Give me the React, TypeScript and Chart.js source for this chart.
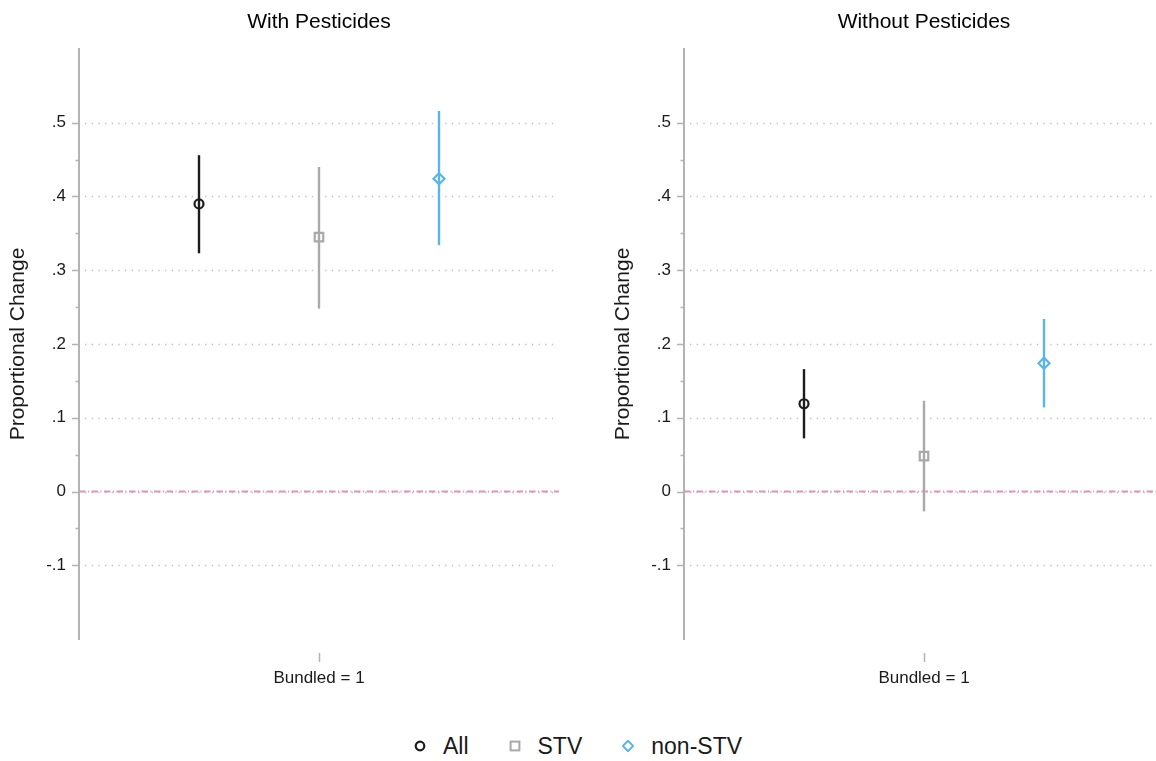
import React, { useEffect, useRef } from 'react';
import { Chart, registerables } from 'chart.js';

Chart.register(...registerables);

const FONT = "'Liberation Sans', Arial, Helvetica, sans-serif";

const categories = ['All', 'STV', 'non-STV'];
const panelTitles = ['With Pesticides', 'Without Pesticides'];
const xTickLabels = ['Bundled = 1'];
const yAxisTitle = 'Proportional Change';
const yMajorTicks = [-0.1, 0, 0.1, 0.2, 0.3, 0.4, 0.5];
const yMinorTicks = [-0.05, 0.05, 0.15, 0.25, 0.35, 0.45];

const withEstimate = [0.39, 0.345, 0.424];
const withLower = [0.323, 0.248, 0.334];
const withUpper = [0.456, 0.44, 0.516];

const withoutEstimate = [0.119, 0.048, 0.174];
const withoutLower = [0.072, -0.027, 0.114];
const withoutUpper = [0.166, 0.123, 0.234];

const seriesColors = ['#1c1c1c', '#a9a9a9', '#5bb5e8'];
const pointStyles = ['circle', 'rect', 'rectRot'];
const pointRadii = [4.5, 6, 5.5];

const AXIS_GRAY = '#b3b3b3';
const TEXT = '#1a1a1a';

function fmtTick(v: number): string {
  const r = Math.round(v * 10) / 10;
  if (r === 0) return '0';
  const s = Math.abs(r).toFixed(1).replace(/^0/, '');
  return (r < 0 ? '-' : '') + s;
}

const stataPlugin = {
  id: 'stataAxis',
  beforeDatasetsDraw(chart: any) {
    const { ctx, chartArea } = chart;
    const y = chart.scales.y;
    ctx.save();
    ctx.strokeStyle = '#bdbdbd';
    ctx.lineWidth = 1.3;
    ctx.setLineDash([1.3, 5.37]);
    yMajorTicks.forEach((v) => {
      const py = Math.round(y.getPixelForValue(v)) + 0.5;
      ctx.beginPath();
      ctx.moveTo(chartArea.left + 6, py);
      ctx.lineTo(chartArea.right - 6, py);
      ctx.stroke();
    });
    ctx.restore();
  },
  afterDraw(chart: any) {
    const { ctx, chartArea } = chart;
    const y = chart.scales.y;
    const x = chart.scales.x;
    ctx.save();
    ctx.strokeStyle = AXIS_GRAY;
    ctx.lineWidth = 1.5;
    ctx.setLineDash([]);
    yMajorTicks.forEach((v) => {
      const py = Math.round(y.getPixelForValue(v)) + 0.5;
      ctx.beginPath();
      ctx.moveTo(chartArea.left - 7, py);
      ctx.lineTo(chartArea.left, py);
      ctx.stroke();
    });
    yMinorTicks.forEach((v) => {
      const py = Math.round(y.getPixelForValue(v)) + 0.5;
      ctx.beginPath();
      ctx.moveTo(chartArea.left - 3.5, py);
      ctx.lineTo(chartArea.left, py);
      ctx.stroke();
    });
    x.ticks.forEach((t: any) => {
      const px = Math.round(x.getPixelForValue(t.value)) + 0.5;
      ctx.beginPath();
      ctx.moveTo(px, chartArea.bottom + 14);
      ctx.lineTo(px, chartArea.bottom + 23);
      ctx.stroke();
    });
    ctx.restore();
  },
};

function buildConfig(title: string, est: number[], lo: number[], hi: number[]): any {
  const datasets: any[] = [];
  datasets.push({
    label: 'zero',
    data: [
      { x: 0, y: 0 },
      { x: 4, y: 0 },
    ],
    borderColor: '#dc94c2',
    borderWidth: 2,
    borderDash: [6.5, 2.5, 1, 2.5],
    pointRadius: 0,
    order: 10,
  });
  categories.forEach((c, i) => {
    datasets.push({
      label: c + ' CI',
      data: [
        { x: i + 1, y: lo[i] },
        { x: i + 1, y: hi[i] },
      ],
      borderColor: seriesColors[i],
      borderWidth: 2.4,
      pointRadius: 0,
      order: 5,
    });
  });
  categories.forEach((c, i) => {
    datasets.push({
      label: c,
      data: [{ x: i + 1, y: est[i] }],
      showLine: false,
      pointStyle: pointStyles[i],
      pointRadius: pointRadii[i],
      pointBorderWidth: 2.2,
      pointBorderColor: seriesColors[i],
      pointBackgroundColor: 'rgba(0,0,0,0)',
      order: 1,
    });
  });

  return {
    type: 'line',
    data: { datasets },
    options: {
      animation: false,
      responsive: false,
      events: [],
      layout: { padding: { left: 0, right: 47, top: 0, bottom: 0 } },
      plugins: {
        legend: { display: false },
        tooltip: { enabled: false },
        title: {
          display: true,
          fullSize: false,
          text: title,
          color: '#000',
          font: { family: FONT, size: 21, weight: 'normal', lineHeight: '24px' },
          padding: { top: 10, bottom: 15 },
        },
      },
      scales: {
        x: {
          type: 'linear',
          min: 0,
          max: 4,
          grid: { display: false, drawTicks: false },
          border: { display: false },
          afterBuildTicks: (s: any) => {
            s.ticks = [{ value: 2 }];
          },
          afterFit: (s: any) => {
            s.height = 61;
          },
          ticks: {
            padding: 29,
            autoSkip: false,
            maxRotation: 0,
            color: TEXT,
            font: { family: FONT, size: 17 },
            callback: (_v: any, i: number) => xTickLabels[i],
          },
        },
        y: {
          type: 'linear',
          min: -0.2,
          max: 0.6,
          afterBuildTicks: (s: any) => {
            s.ticks = yMajorTicks.map((v) => ({ value: v }));
          },
          afterFit: (s: any) => {
            s.width = 79;
          },
          grid: { display: false, drawTicks: false },
          border: { display: true, color: AXIS_GRAY, width: 2 },
          ticks: {
            padding: 13,
            autoSkip: false,
            color: TEXT,
            font: { family: FONT, size: 17 },
            callback: (v: any) => fmtTick(Number(v)),
          },
          title: {
            display: true,
            text: yAxisTitle,
            color: TEXT,
            font: { family: FONT, size: 21 },
            padding: { top: 6, bottom: 0 },
          },
        },
      },
    },
    plugins: [stataPlugin],
  };
}

function LegendMarker({ i }: { i: number }) {
  const c = seriesColors[i];
  return (
    <svg width={12} height={12} viewBox="0 0 12 12" style={{ display: 'block' }}>
      {i === 0 && <circle cx={6} cy={6} r={4.3} fill="none" stroke={c} strokeWidth={2.2} />}
      {i === 1 && <rect x={1.6} y={1.6} width={8.8} height={8.8} fill="none" stroke={c} strokeWidth={2} />}
      {i === 2 && <polygon points="6,0.8 11.2,6 6,11.2 0.8,6" fill="none" stroke={c} strokeWidth={2} />}
    </svg>
  );
}

export default function App() {
  const leftRef = useRef<HTMLCanvasElement | null>(null);
  const rightRef = useRef<HTMLCanvasElement | null>(null);

  useEffect(() => {
    const charts: Chart[] = [];
    if (leftRef.current) {
      charts.push(new Chart(leftRef.current, buildConfig(panelTitles[0], withEstimate, withLower, withUpper)));
    }
    if (rightRef.current) {
      charts.push(new Chart(rightRef.current, buildConfig(panelTitles[1], withoutEstimate, withoutLower, withoutUpper)));
    }
    return () => charts.forEach((c) => c.destroy());
  }, []);

  return (
    <div
      style={{
        position: 'fixed',
        left: 0,
        top: 0,
        width: 1156,
        height: 761,
        overflow: 'hidden',
        background: '#fff',
        fontFamily: FONT,
      }}
    >
      <canvas ref={leftRef} width={606} height={700} style={{ position: 'absolute', left: 0, top: 0, width: 606, height: 700 }} />
      <canvas ref={rightRef} width={606} height={700} style={{ position: 'absolute', left: 605, top: 0, width: 606, height: 700 }} />
      <div
        style={{
          position: 'absolute',
          left: 0,
          top: 732,
          width: 1156,
          height: 28,
          display: 'flex',
          alignItems: 'center',
          justifyContent: 'center',
          fontSize: 23,
          color: TEXT,
          lineHeight: '28px',
        }}
      >
        {categories.map((c, i) => (
          <div key={c} style={{ display: 'flex', alignItems: 'center', marginLeft: i === 0 ? 0 : 40 }}>
            <LegendMarker i={i} />
            <span style={{ marginLeft: 17 }}>{c}</span>
          </div>
        ))}
      </div>
    </div>
  );
}
